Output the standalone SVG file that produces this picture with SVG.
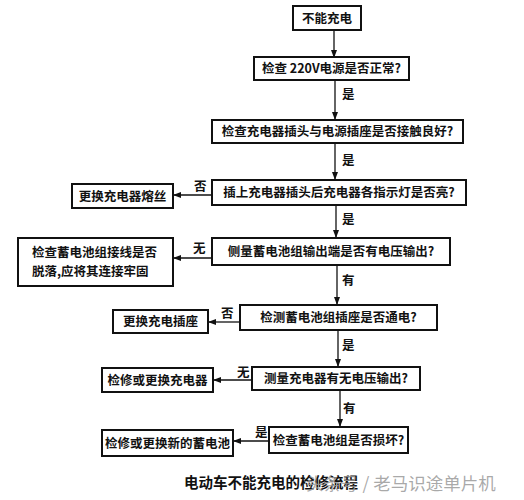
<svg xmlns="http://www.w3.org/2000/svg" width="524" height="500" viewBox="0 0 524 500">
<defs>
<marker id="ah" markerWidth="8" markerHeight="6" refX="7" refY="3" orient="auto" markerUnits="userSpaceOnUse">
<path d="M0,0 L8,3 L0,6 Z" fill="#111"/>
</marker>
<style>
.b{fill:#fff;stroke:#111;stroke-width:2}
.t{font-family:"Noto Sans CJK SC","Noto Sans CJK TC",sans-serif;font-size:12.5px;font-weight:bold;fill:#111}
.l{font-family:"Noto Sans CJK SC",sans-serif;font-size:12.5px;font-weight:bold;fill:#111}
.c{stroke:#111;stroke-width:1.3;fill:none;marker-end:url(#ah)}
</style>
</defs>
<rect width="524" height="500" fill="#fff"/>
<g id="connectors">
<line class="c" x1="334" y1="30" x2="334" y2="57"/>
<line class="c" x1="335" y1="80" x2="335" y2="119"/>
<line class="c" x1="335" y1="143" x2="335" y2="179"/>
<line class="c" x1="336" y1="205" x2="336" y2="237"/>
<line class="c" x1="337" y1="265" x2="337" y2="304"/>
<line class="c" x1="338" y1="330" x2="338" y2="366"/>
<line class="c" x1="340" y1="390" x2="340" y2="426"/>
<line class="c" x1="212" y1="195" x2="174" y2="195"/>
<line class="c" x1="212" y1="258" x2="174" y2="258"/>
<line class="c" x1="240" y1="322" x2="209" y2="322"/>
<line class="c" x1="252" y1="380" x2="214" y2="380"/>
<line class="c" x1="269" y1="441" x2="234" y2="441"/>
<text class="l" x="342" y="99">是</text>
<text class="l" x="342" y="165">是</text>
<text class="l" x="342" y="224">是</text>
<text class="l" x="342" y="285">有</text>
<text class="l" x="342" y="350">是</text>
<text class="l" x="343" y="413">有</text>
<text class="l" x="194" y="191">否</text>
<text class="l" x="193" y="253">无</text>
<text class="l" x="221" y="318">否</text>
<text class="l" x="237" y="377">无</text>
<text class="l" x="255" y="437">是</text>
</g>
<g id="n1"><rect class="b" x="293" y="6" width="68" height="24"/><text class="t" x="327" y="23" text-anchor="middle">不能充电</text></g>
<g id="n2"><rect class="b" x="254" y="57" width="155" height="23"/><text class="t" x="331.5" y="73" text-anchor="middle">检查 220V电源是否正常?</text></g>
<g id="n3"><rect class="b" x="212" y="120" width="251" height="23"/><text class="t" x="337.5" y="136" text-anchor="middle">检查充电器插头与电源插座是否接触良好?</text></g>
<g id="n4"><rect class="b" x="212" y="180" width="254" height="25"/><text class="t" x="339" y="197" text-anchor="middle">插上充电器插头后充电器各指示灯是否亮?</text></g>
<g id="n5"><rect class="b" x="72" y="184" width="101" height="24"/><text class="t" x="122.5" y="201" text-anchor="middle">更换充电器熔丝</text></g>
<g id="n6"><rect class="b" x="18" y="238" width="155" height="48"/><text class="t" x="32" y="257">检查蓄电池组接线是否</text><text class="t" x="32" y="276">脱落,应将其连接牢固</text></g>
<g id="n7"><rect class="b" x="212" y="238" width="238" height="27"/><text class="t" x="331" y="256" text-anchor="middle">侧量蓄电池组输出端是否有电压输出?</text></g>
<g id="n8"><rect class="b" x="240" y="305" width="197" height="25"/><text class="t" x="338.5" y="322" text-anchor="middle">检测蓄电池组插座是否通电?</text></g>
<g id="n9"><rect class="b" x="113" y="310" width="95" height="23"/><text class="t" x="160.5" y="326" text-anchor="middle">更换充电插座</text></g>
<g id="n10"><rect class="b" x="252" y="367" width="168" height="23"/><text class="t" x="336" y="383" text-anchor="middle">测量充电器有无电压输出?</text></g>
<g id="n11"><rect class="b" x="102" y="368" width="111" height="24"/><text class="t" x="157.5" y="385" text-anchor="middle">检修或更换充电器</text></g>
<g id="n12"><rect class="b" x="269" y="427" width="139" height="26"/><text class="t" x="338.5" y="445" text-anchor="middle">检查蓄电池组是否损坏?</text></g>
<g id="n13"><rect class="b" x="102" y="430" width="131" height="26"/><text class="t" x="167.5" y="448" text-anchor="middle">检修或更换新的蓄电池</text></g>
<text x="184" y="488" font-family="Noto Sans CJK SC, sans-serif" font-size="14.5" font-weight="bold" fill="#111">电动车不能充电的检修流程</text>
<text x="306" y="490" font-family="Noto Sans CJK SC, sans-serif" font-size="17.5" fill="#9a9a9a" fill-opacity="0.85">头条号 / 老马识途单片机</text>
</svg>
